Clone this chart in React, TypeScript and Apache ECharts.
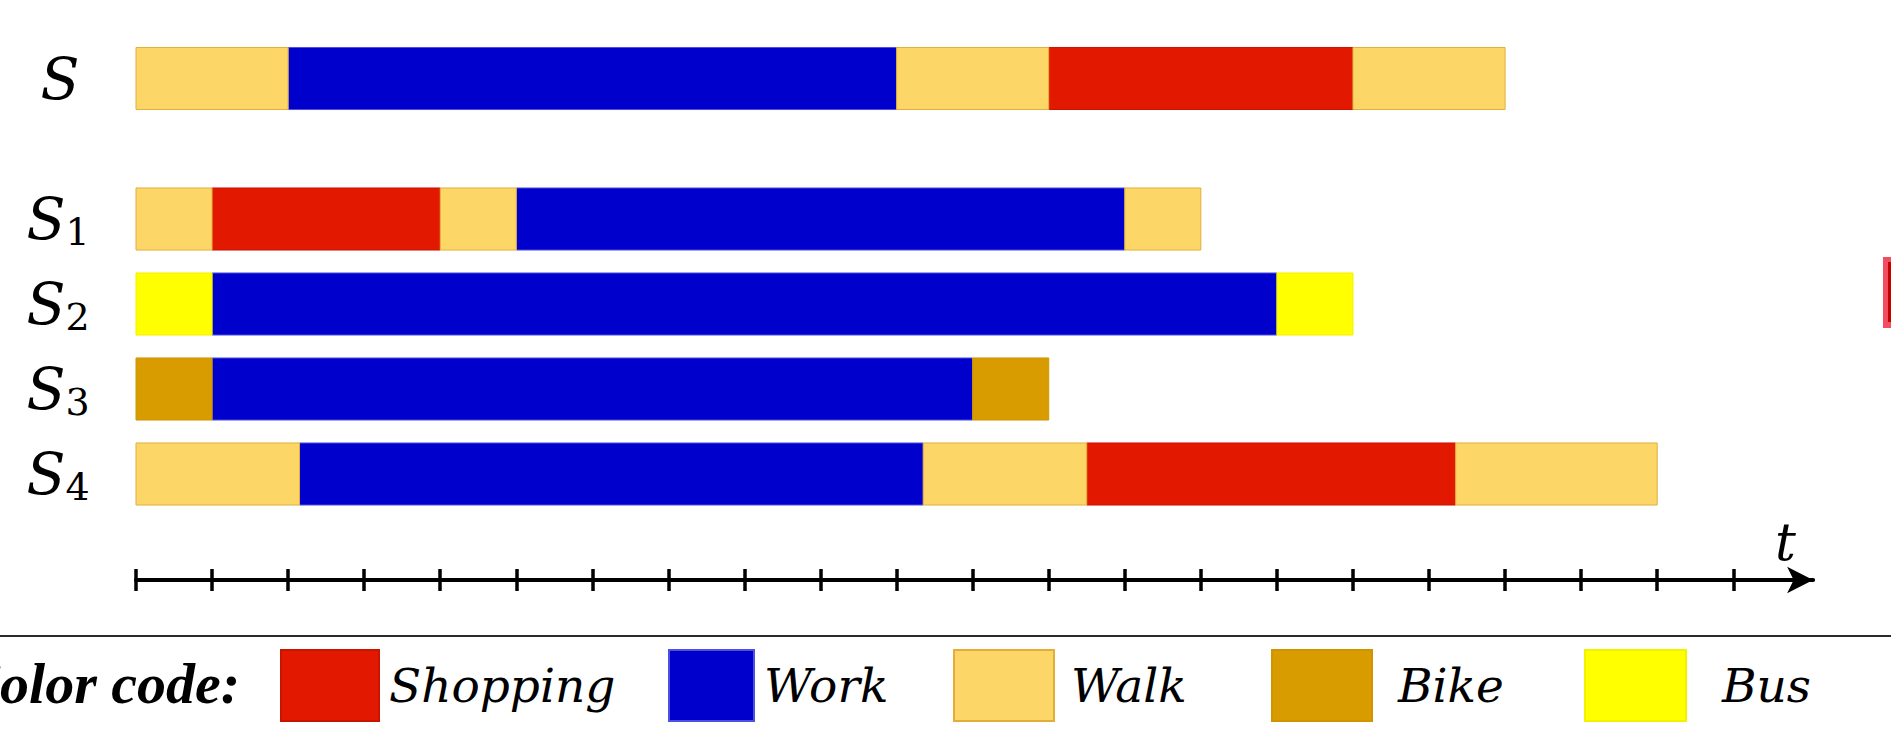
import React, { useEffect, useRef } from "react";
import * as echarts from "echarts";

// ---- data ----
const topRows = ["S"];
const bottomRows = ["S1", "S2", "S3", "S4"];
const activities = ["Shopping", "Work", "Walk", "Bike", "Bus"];
const ticks = [0, 1, 2, 3, 4, 5, 6, 7, 8, 9, 10, 11, 12, 13, 14, 15, 16, 17, 18, 19, 20, 21];

// [start, end, activity]
const segS: [number, number, string][] = [
  [0, 2, "Walk"], [2, 10, "Work"], [10, 12, "Walk"], [12, 16, "Shopping"], [16, 18, "Walk"],
];
const segS1: [number, number, string][] = [
  [0, 1, "Walk"], [1, 4, "Shopping"], [4, 5, "Walk"], [5, 13, "Work"], [13, 14, "Walk"],
];
const segS2: [number, number, string][] = [
  [0, 1, "Bus"], [1, 15, "Work"], [15, 16, "Bus"],
];
const segS3: [number, number, string][] = [
  [0, 1, "Bike"], [1, 11, "Work"], [11, 12, "Bike"],
];
const segS4: [number, number, string][] = [
  [0, 2.15, "Walk"], [2.15, 10.35, "Work"], [10.35, 12.5, "Walk"], [12.5, 17.35, "Shopping"], [17.35, 20, "Walk"],
];

const fillColors: Record<string, string> = {
  Shopping: "#e31800",
  Work: "#0000cc",
  Walk: "#fdd668",
  Bike: "#d89c00",
  Bus: "#ffff00",
};
const edgeColors: Record<string, string> = {
  Shopping: "#c81400",
  Work: "#5050e0",
  Walk: "#e2ae3a",
  Bike: "#cf9400",
  Bus: "#f3f000",
};

const X_MAX = 22.05;
const UNIT = 76.06;
const SERIF = "DejaVu Serif";

export default function App() {
  const ref = useRef<HTMLDivElement>(null);

  useEffect(() => {
    document.body.style.margin = "0";
    document.body.style.overflow = "hidden";
    if (!ref.current) return;
    const chart = echarts.init(ref.current, undefined, { renderer: "svg" });

    const gridSegs = [[segS], [segS1, segS2, segS3, segS4]];

    const renderItem = (params: any, api: any) => {
      const y = api.value(2);
      const p0 = api.coord([api.value(0), y]);
      const p1 = api.coord([api.value(1), y]);
      const h = api.size([0, 1])[1] * 0.73;
      return {
        type: "rect",
        shape: { x: p0[0], y: p0[1] - h / 2, width: p1[0] - p0[0], height: h },
        style: api.style(),
      };
    };

    const series: any[] = [];
    gridSegs.forEach((rows, g) => {
      activities.forEach((a) => {
        const data: number[][] = [];
        rows.forEach((segs, r) => {
          segs.forEach((s) => {
            if (s[2] === a) data.push([s[0], s[1], r]);
          });
        });
        series.push({
          type: "custom",
          name: a,
          xAxisIndex: g,
          yAxisIndex: g,
          renderItem,
          encode: { x: [0, 1], y: 2 },
          itemStyle: { color: fillColors[a], borderColor: edgeColors[a], borderWidth: 1 },
          data,
        });
      });
    });

    const legendLeft = [280, 668, 953, 1271, 1584];
    const legendWidth = [98, 85, 100, 100, 101];
    const legendPad = [5, 5, 12, 21, 31];

    const labelRich = {
      m: { fontFamily: SERIF, fontStyle: "italic", fontSize: 57, lineHeight: 64, color: "#000", verticalAlign: "middle" },
      s: { fontFamily: SERIF, fontSize: 38, color: "#000", verticalAlign: "bottom" },
    };

    const gridRight = 1891 - 136 - UNIT * X_MAX;

    const option: any = {
      animation: false,
      backgroundColor: "#ffffff",
      grid: [
        { left: 136, right: gridRight, top: 36, height: 85, outerBoundsMode: "none" },
        { left: 136, right: gridRight, top: 176.5, height: 340, outerBoundsMode: "none" },
      ],
      xAxis: [
        { type: "value", gridIndex: 0, min: 0, max: X_MAX, show: false },
        {
          type: "value",
          gridIndex: 1,
          min: 0,
          max: X_MAX,
          position: "bottom",
          offset: 63.5,
          axisLine: {
            show: true,
            lineStyle: { color: "#000", width: 4 },
            symbol: ["none", "arrow"],
            symbolSize: [20, 26],
          },
          axisTick: { show: true, customValues: ticks, length: 11, lineStyle: { color: "#000", width: 3.5 } },
          axisLabel: { show: false },
          splitLine: { show: false },
          name: "t",
          nameLocation: "end",
          nameGap: -38,
          nameTextStyle: {
            fontFamily: SERIF,
            fontStyle: "italic",
            fontSize: 52,
            color: "#000",
            align: "left",
            verticalAlign: "bottom",
            padding: [0, 0, 12, 0],
          },
        },
        {
          type: "value",
          gridIndex: 1,
          min: 0,
          max: X_MAX,
          position: "bottom",
          offset: 63.5,
          axisLine: { show: false },
          axisTick: { show: true, inside: true, customValues: ticks, length: 11, lineStyle: { color: "#000", width: 3.5 } },
          axisLabel: { show: false },
          splitLine: { show: false },
        },
      ],
      yAxis: [
        {
          type: "category",
          gridIndex: 0,
          data: topRows,
          axisLine: { show: false },
          axisTick: { show: false },
          splitLine: { show: false },
          axisLabel: {
            margin: 76,
            align: "center",
            formatter: (v: string) => `{m|${v}}`,
            rich: labelRich,
          },
        },
        {
          type: "category",
          gridIndex: 1,
          data: bottomRows,
          inverse: true,
          axisLine: { show: false },
          axisTick: { show: false },
          splitLine: { show: false },
          axisLabel: {
            margin: 78,
            align: "center",
            formatter: (v: string) => `{m|${v.slice(0, 1)}}{s|${v.slice(1)}}`,
            rich: labelRich,
          },
        },
      ],
      legend: activities.map((a, i) => ({
        data: [a],
        left: legendLeft[i],
        top: 649,
        padding: 0,
        itemGap: 0,
        itemWidth: legendWidth[i],
        itemHeight: 71,
        icon: "rect",
        selectedMode: false,
        textStyle: {
          fontFamily: SERIF,
          fontStyle: "italic",
          fontSize: 47,
          color: "#000",
          padding: [0, 0, 0, legendPad[i]],
        },
      })),
      graphic: [
        {
          type: "line",
          shape: { x1: 0, y1: 636, x2: 1891, y2: 636 },
          style: { stroke: "#2a2a2a", lineWidth: 2 },
        },
        {
          type: "text",
          x: 240,
          y: 683,
          style: {
            text: "Color code:",
            fontFamily: "Liberation Serif",
            fontWeight: "bold",
            fontStyle: "italic",
            fontSize: 58,
            fill: "#000",
            align: "right",
            verticalAlign: "middle",
          },
        },
        {
          type: "text",
          x: 819,
          y: 219,
          style: {
            text: "n",
            fontFamily: SERIF,
            fontSize: 12,
            fill: "#000044",
            align: "center",
            verticalAlign: "middle",
          },
        },
        {
          type: "rect",
          shape: { x: 1883, y: 257, width: 20, height: 71 },
          style: { fill: "#f24d60" },
        },
        {
          type: "rect",
          shape: { x: 1888, y: 262, width: 20, height: 60 },
          style: { fill: "#c40000" },
        },
      ],
      series,
    };

    chart.setOption(option);
    return () => chart.dispose();
  }, []);

  return <div ref={ref} style={{ width: 1891, height: 730 }} />;
}
